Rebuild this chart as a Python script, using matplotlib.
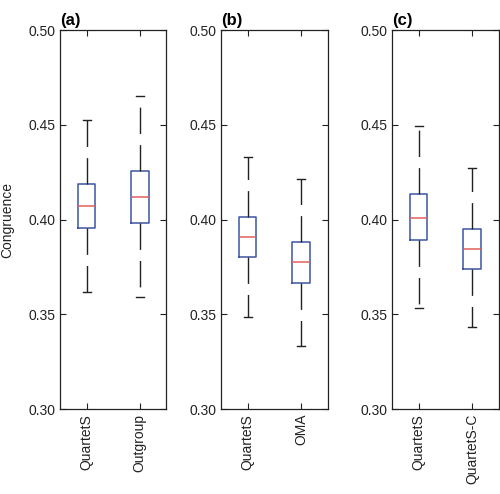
import matplotlib
matplotlib.use("Agg")
import matplotlib.pyplot as plt

plt.rcParams['font.family'] = ['Liberation Sans', 'DejaVu Sans']

# panel data: whisker low, Q1, median, Q3, whisker high
panels = ["(a)", "(b)", "(c)"]
labels_a = ["QuartetS", "Outgroup"]
labels_b = ["QuartetS", "OMA"]
labels_c = ["QuartetS", "QuartetS-C"]

whislo_a = [0.362, 0.359]
q1_a = [0.3955, 0.3983]
med_a = [0.4071, 0.4117]
q3_a = [0.4187, 0.4254]
whishi_a = [0.4525, 0.4652]

whislo_b = [0.3486, 0.3334]
q1_b = [0.3803, 0.3664]
med_b = [0.3909, 0.3777]
q3_b = [0.4014, 0.3883]
whishi_b = [0.4331, 0.4213]

whislo_c = [0.3531, 0.3431]
q1_c = [0.3891, 0.3740]
med_c = [0.4009, 0.3846]
q3_c = [0.4133, 0.3951]
whishi_c = [0.4496, 0.4274]

yticks = [0.30, 0.35, 0.40, 0.45, 0.50]

data = [
    (labels_a, whislo_a, q1_a, med_a, q3_a, whishi_a),
    (labels_b, whislo_b, q1_b, med_b, q3_b, whishi_b),
    (labels_c, whislo_c, q1_c, med_c, q3_c, whishi_c),
]

fig = plt.figure(figsize=(5.0, 4.94), dpi=100)
lefts = [0.120, 0.442, 0.784]

for i, (labels, lo, q1, med, q3, hi) in enumerate(data):
    ax = fig.add_axes([lefts[i], 0.172, 0.213, 0.767])
    stats = []
    for j in range(len(labels)):
        stats.append({"label": labels[j], "whislo": lo[j], "q1": q1[j],
                      "med": med[j], "q3": q3[j], "whishi": hi[j],
                      "fliers": []})
    ax.bxp(stats, widths=0.33, capwidths=0.15, showfliers=False,
           boxprops=dict(color="#3d55a3", linewidth=1.1),
           medianprops=dict(color="#e0605a", linewidth=1.1),
           whiskerprops=dict(color="#222222", linewidth=1.0,
                             linestyle=(0, (19, 8))),
           capprops=dict(color="#222222", linewidth=1.0))
    ax.set_xlim(0.5, 2.5)
    ax.set_ylim(0.30, 0.50)
    ax.set_yticks(yticks)
    ax.set_yticklabels(["%.2f" % t for t in yticks], fontsize=10)
    ax.set_xticklabels(labels, rotation=90, fontsize=10)
    ax.tick_params(direction="in", length=4, width=0.8, top=True, right=True,
                   colors="#222222", labelcolor="#222222")
    for s in ax.spines.values():
        s.set_linewidth(0.9)
        s.set_color("#222222")
    ax.set_title(panels[i], loc="left", fontsize=12, fontweight="bold", pad=4)
    if i == 0:
        ax.set_ylabel("Congruence", fontsize=10, color="#222222", labelpad=10)

fig.savefig("out.png", dpi=100)
